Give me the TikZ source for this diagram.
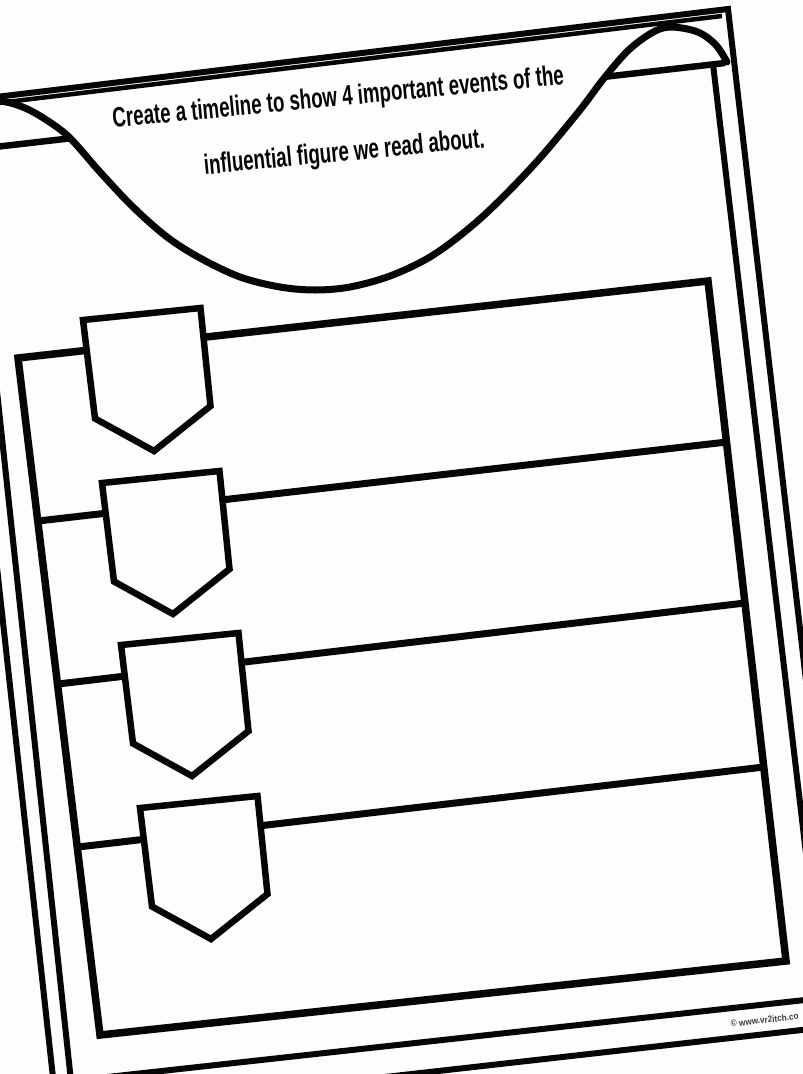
\documentclass[tikz,border=0pt]{standalone}
\usepackage{fontspec}
\setmainfont{Liberation Sans}
\newfontfamily\promptfont[FakeStretch=0.668]{Liberation Sans}
\newfontfamily\creditfont[FakeStretch=0.9]{Liberation Sans}
\usepackage{tikz}
\usepackage{xcolor}
\definecolor{paper}{HTML}{FDFDFD}
\definecolor{ink}{HTML}{050505}
\definecolor{creditgrey}{HTML}{3A3A3A}

\begin{document}
\begin{tikzpicture}[
  x=1pt, y=-1pt,
  frame/.style={draw=ink, line width=6pt, line join=miter},
  thinframe/.style={draw=ink, line width=4.5pt},
  boxline/.style={draw=ink, line width=7.5pt, line join=miter},
  rowline/.style={draw=ink, line width=7pt},
  tab/.style={draw=ink, fill=paper, line width=6.5pt, line join=miter},
  wave/.style={draw=ink, line width=7pt, line cap=round},
  prompt/.style={font=\promptfont\bfseries\fontsize{28}{32}\selectfont,
                 text=ink, anchor=base, rotate=5.5, inner sep=0pt},
  credit/.style={font=\creditfont\bfseries\fontsize{9.1}{11}\selectfont,
                 text=creditgrey, anchor=base west, rotate=6.5, inner sep=0pt},
]
\useasboundingbox (0,0) rectangle (803,1074);
\clip (0,0) rectangle (803,1074);
\fill[paper] (0,0) rectangle (803,1074);

% --- the sheet is photographed tilted, so every corner is given where it
% --- lands in the picture; the top-left and bottom corners fall outside.
\coordinate (sheetNW) at (-54,103);
\coordinate (sheetNE) at (728,9);
\coordinate (sheetSE) at (846,1025);
\coordinate (sheetSW) at (57,1114);

% --- inner frame, open at the top: the header line closes it
\draw[frame] (713,64) -- (823,998) -- (71,1081) -- (-29,149);
\draw[frame, line width=6.5pt] (-40,151) -- (725,63);
\draw[thinframe, line width=3.5pt] (722,16) -- (725,63);

% --- banner: the wave hides the header line inside its trough
\fill[paper] plot[smooth, tension=0.55] coordinates {
  (-40,100) (0,101) (25,108) (48,121) (70,138) (100,172) (133,207)
  (167,237) (200,258) (240,277) (280,287) (315,290) (350,287) (390,276)
  (430,257) (467,230) (500,200) (540,158) (580,110) (605,77) (632,47)
  (663,28) (695,31) (715,44) (727,62)} -- (735,8) -- (-40,98) -- cycle;

\draw[frame] (sheetNW) -- (sheetNE) -- (sheetSE) -- (sheetSW) -- cycle;
\draw[thinframe] (-60,110) -- (722,16);

\draw[wave] plot[smooth, tension=0.55] coordinates {
  (-40,100) (0,101) (25,108) (48,121) (70,138) (100,172) (133,207)
  (167,237) (200,258) (240,277) (280,287) (315,290) (350,287) (390,276)
  (430,257) (467,230) (500,200) (540,158) (580,110) (605,77) (632,47)
  (663,28) (695,31) (715,44) (727,62)};

\node[prompt] (promptA) at (339,106) {Create a timeline to show 4 important events of the};
\node[prompt] (promptB) at (345,161) {influential figure we read about.};

% --- timeline box: row 1 is its top edge, rows 2-4 split it
\coordinate (boxNW) at (18,358);
\coordinate (boxNE) at (708,281);
\coordinate (boxSE) at (786,961);
\coordinate (boxSW) at (100,1035);
\draw[boxline] (boxNW) -- (boxNE) -- (boxSE) -- (boxSW) -- cycle;

\draw[rowline] (38,521) -- (727,442);
\draw[rowline] (58,684) -- (745,603);
\draw[rowline] (78,847) -- (764,767);

% --- one tab per event, sitting on its row line
\draw[tab] (83,320)  -- ++(117.5,-12) -- ++(10,98) -- ++(-56.5,45) -- ++(-59,-32.5) -- cycle;
\draw[tab] (102,483) -- ++(117.5,-12) -- ++(10,98) -- ++(-56.5,45) -- ++(-59,-32.5) -- cycle;
\draw[tab] (121,645) -- ++(117.5,-12) -- ++(10,98) -- ++(-56.5,45) -- ++(-59,-32.5) -- cycle;
\draw[tab] (140,808) -- ++(117.5,-12) -- ++(10,98) -- ++(-56.5,45) -- ++(-59,-32.5) -- cycle;

\node[credit] (siteA) at (731,1027) {© www.vr2itch.co};
\end{tikzpicture}
\end{document}
